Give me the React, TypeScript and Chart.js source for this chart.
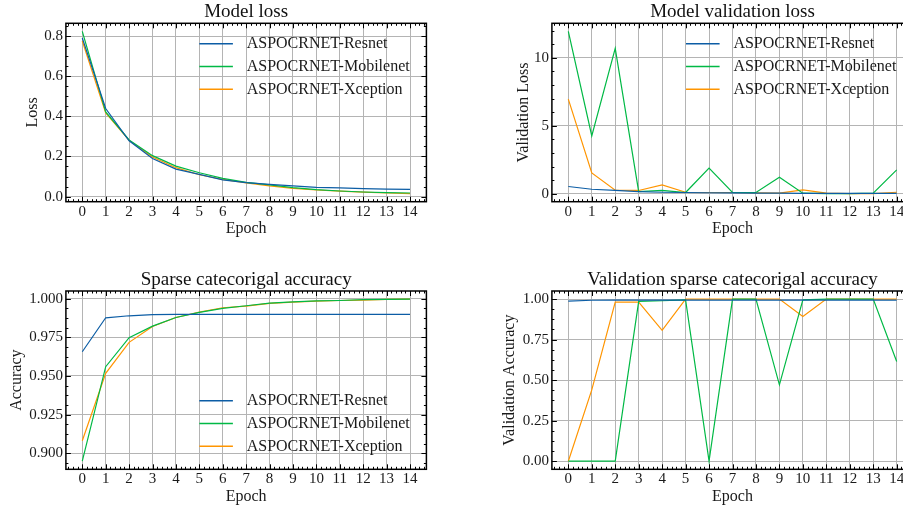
import React, { useEffect, useRef } from "react";
import { Chart, registerables } from "chart.js";

Chart.register(...registerables);

// ---------------- data ----------------
const epochs = [0, 1, 2, 3, 4, 5, 6, 7, 8, 9, 10, 11, 12, 13, 14];
const seriesNames = ["ASPOCRNET-Resnet", "ASPOCRNET-Mobilenet", "ASPOCRNET-Xception"];
const seriesColors = ["#0C5DA5", "#00B945", "#FF9500"];

const lossResnet = [0.79, 0.439, 0.278, 0.19, 0.137, 0.111, 0.083, 0.07, 0.061, 0.053, 0.046, 0.043, 0.04, 0.037, 0.036];
const lossMobilenet = [0.823, 0.422, 0.282, 0.204, 0.152, 0.119, 0.091, 0.071, 0.058, 0.045, 0.035, 0.028, 0.023, 0.02, 0.018];
const lossXception = [0.775, 0.417, 0.28, 0.197, 0.144, 0.109, 0.086, 0.068, 0.053, 0.041, 0.033, 0.027, 0.022, 0.018, 0.015];

const valLossResnet = [0.54, 0.34, 0.25, 0.17, 0.12, 0.1, 0.08, 0.07, 0.06, 0.05, 0.04, 0.03, 0.03, 0.03, 0.03];
const valLossMobilenet = [11.94, 4.26, 10.7, 0.17, 0.25, 0.1, 1.89, 0.1, 0.1, 1.22, 0.05, 0.02, 0.02, 0.05, 1.76];
const valLossXception = [6.96, 1.54, 0.27, 0.25, 0.66, 0.12, 0.1, 0.1, 0.07, 0.05, 0.29, 0.05, 0.02, 0.02, 0.12];

const accResnet = [0.9657, 0.9877, 0.989, 0.9897, 0.9899, 0.9899, 0.9899, 0.9899, 0.9899, 0.9899, 0.9899, 0.9899, 0.9899, 0.9899, 0.9899];
const accMobilenet = [0.8948, 0.956, 0.9748, 0.9823, 0.9879, 0.9912, 0.9938, 0.9955, 0.9972, 0.998, 0.9987, 0.9989, 0.9994, 0.9996, 0.9998];
const accXception = [0.908, 0.9517, 0.9718, 0.9821, 0.9879, 0.9914, 0.9942, 0.9953, 0.997, 0.9978, 0.9985, 0.9989, 0.9991, 0.9996, 0.9998];

const valAccResnet = [0.988, 0.993, 0.994, 0.994, 0.994, 0.994, 0.994, 0.994, 0.994, 0.994, 0.994, 0.994, 0.994, 0.994, 0.994];
const valAccMobilenet = [0.0, 0.0, 0.0, 0.986, 0.99, 0.995, 0.0, 1.0, 1.0, 0.471, 0.995, 1.0, 1.0, 1.0, 0.615];
const valAccXception = [0.0, 0.44, 0.981, 0.981, 0.807, 1.0, 1.0, 1.0, 1.0, 1.0, 0.893, 1.0, 1.0, 1.0, 1.0];

const lossTicks = [0.0, 0.2, 0.4, 0.6, 0.8];
const valLossTicks = [0, 5, 10];
const accTicks = [0.9, 0.925, 0.95, 0.975, 1.0];
const valAccTicks = [0.0, 0.25, 0.5, 0.75, 1.0];

const titles = ["Model loss", "Model validation loss", "Sparse catecorigal accuracy", "Validation sparse catecorigal accuracy"];
const yTitles = ["Loss", "Validation Loss", "Accuracy", "Validation Accuracy"];
const xTitle = "Epoch";

// ---------------- style ----------------
const FONT = "'Liberation Serif', 'Times New Roman', serif";
const TEXT = "#1a1a1a";
const GRID = "#b4b4b4";

type Panel = {
  left: number; top: number; width: number; height: number;
  padTop: number; padRight: number; yAxisW: number; xAxisH: number;
  xTitlePad: number; yTitlePad: number;
  title: string; yTitle: string; series: number[][];
  yTicks: number[]; decimals: number; yMinor: number;
  legend: "top" | "bottom" | null;
};

const panels: Panel[] = [
  { left: 0, top: 0, width: 451, height: 253, padTop: 23.3, padRight: 24.6, yAxisW: 65.9, xAxisH: 51.3, xTitlePad: 14.8, yTitlePad: 23.3,
    title: titles[0], yTitle: yTitles[0], series: [lossResnet, lossMobilenet, lossXception], yTicks: lossTicks, decimals: 1, yMinor: 0.05, legend: "top" },
  { left: 451, top: 0, width: 487, height: 253, padTop: 23.3, padRight: 24.9, yAxisW: 100.9, xAxisH: 51.3, xTitlePad: 14.8, yTitlePad: 63,
    title: titles[1], yTitle: yTitles[1], series: [valLossResnet, valLossMobilenet, valLossXception], yTicks: valLossTicks, decimals: 0, yMinor: 1, legend: "top" },
  { left: 0, top: 253, width: 451, height: 253, padTop: 38, padRight: 24.6, yAxisW: 65.9, xAxisH: 36.7, xTitlePad: 0, yTitlePad: 7.3,
    title: titles[2], yTitle: yTitles[2], series: [accResnet, accMobilenet, accXception], yTicks: accTicks, decimals: 3, yMinor: 0.00625, legend: "bottom" },
  { left: 451, top: 253, width: 487, height: 253, padTop: 38, padRight: 24.9, yAxisW: 100.9, xAxisH: 36.7, xTitlePad: 0, yTitlePad: 49.3,
    title: titles[3], yTitle: yTitles[3], series: [valAccResnet, valAccMobilenet, valAccXception], yTicks: valAccTicks, decimals: 2, yMinor: 0.0625, legend: null },
];

function framePlugin(p: Panel) {
  return {
    id: "frame",
    afterDraw(chart: any) {
      const { ctx, chartArea: a } = chart;
      const x = chart.scales.x;
      const y = chart.scales.y;
      ctx.save();
      // title, centred over the plot area
      ctx.font = `19px ${FONT}`;
      ctx.fillStyle = "#111";
      ctx.textAlign = "center";
      ctx.textBaseline = "middle";
      ctx.fillText(p.title, (a.left + a.right) / 2, a.top - 11.2);
      // legend (no frame)
      if (p.legend) {
        ctx.font = `16px ${FONT}`;
        ctx.textBaseline = "middle";
        ctx.textAlign = "left";
        chart.data.datasets.forEach((ds: any, i: number) => {
          const ry = p.legend === "top" ? a.top + 20.4 + i * 22.8 : a.bottom - 68.6 + i * 22.8;
          ctx.strokeStyle = ds.borderColor;
          ctx.lineWidth = 1.5;
          ctx.beginPath();
          ctx.moveTo(a.right - 227.1, ry);
          ctx.lineTo(a.right - 193.5, ry);
          ctx.stroke();
          ctx.fillStyle = TEXT;
          ctx.fillText(ds.label, a.right - 179.7, ry + 0.5);
        });
      }
      // ticks, inward on all four sides
      ctx.strokeStyle = "#000";
      ctx.lineWidth = 1;
      const xTick = (v: number, len: number) => {
        const px = Math.round(x.getPixelForValue(v)) + 0.5;
        if (px < a.left || px > a.right) return;
        ctx.beginPath();
        ctx.moveTo(px, a.bottom); ctx.lineTo(px, a.bottom - len);
        ctx.moveTo(px, a.top); ctx.lineTo(px, a.top + len);
        ctx.stroke();
      };
      const yTick = (v: number, len: number) => {
        const py = Math.round(y.getPixelForValue(v)) + 0.5;
        if (py < a.top || py > a.bottom) return;
        ctx.beginPath();
        ctx.moveTo(a.left, py); ctx.lineTo(a.left + len, py);
        ctx.moveTo(a.right, py); ctx.lineTo(a.right - len, py);
        ctx.stroke();
      };
      const xStep = 0.2;
      for (let k = Math.ceil(x.min / xStep); k * xStep <= x.max; k++) {
        const v = k * xStep;
        if (Math.abs(v - Math.round(v)) > 1e-6) xTick(v, 2.5);
      }
      epochs.forEach((e) => xTick(e, 5));
      for (let k = Math.ceil(y.min / p.yMinor); k * p.yMinor <= y.max; k++) {
        yTick(k * p.yMinor, 2.5);
      }
      p.yTicks.forEach((t) => yTick(t, 5));
      // frame
      ctx.lineWidth = 1.5;
      ctx.strokeRect(a.left, a.top, a.right - a.left, a.bottom - a.top);
      ctx.restore();
    },
  };
}

function makeChart(canvas: HTMLCanvasElement, p: Panel) {
  const all = p.series.flat();
  const lo = Math.min(...all);
  const hi = Math.max(...all);
  const ym = (hi - lo) * 0.05;
  const xm = (epochs[epochs.length - 1] - epochs[0]) * 0.05;
  const tickFont = { family: FONT, size: 15 };
  const labelFont = { family: FONT, size: 16, lineHeight: 1.2 };
  return new Chart(canvas, {
    type: "line",
    data: {
      datasets: p.series.map((s, i) => ({
        label: seriesNames[i],
        data: epochs.map((e, j) => ({ x: e, y: s[j] })),
        borderColor: seriesColors[i],
        backgroundColor: seriesColors[i],
        borderWidth: 1.2,
        pointRadius: 0,
        tension: 0,
        fill: false,
      })),
    },
    options: {
      responsive: false,
      animation: false,
      layout: { padding: { left: 0, right: p.padRight, top: p.padTop, bottom: 0 } },
      plugins: {
        legend: { display: false },
        tooltip: { enabled: false },
        title: { display: false },
      },
      scales: {
        x: {
          type: "linear",
          bounds: "data",
          min: epochs[0] - xm,
          max: epochs[epochs.length - 1] + xm,
          afterBuildTicks: (s: any) => { s.ticks = epochs.map((v) => ({ value: v })); },
          afterFit: (s: any) => { s.height = p.xAxisH; },
          ticks: { font: tickFont, color: TEXT, padding: 1, autoSkip: false, maxRotation: 0, callback: (v: any) => String(v) },
          grid: { color: GRID, lineWidth: 1, drawTicks: false },
          border: { display: false },
          title: { display: true, text: xTitle, color: TEXT, font: labelFont, padding: { top: 0, bottom: p.xTitlePad } },
        },
        y: {
          type: "linear",
          bounds: "data",
          min: lo - ym,
          max: hi + ym,
          afterBuildTicks: (s: any) => { s.ticks = p.yTicks.map((v) => ({ value: v })); },
          afterFit: (s: any) => { s.width = p.yAxisW; },
          ticks: { font: tickFont, color: TEXT, padding: 3, autoSkip: false, callback: (v: any) => Number(v).toFixed(p.decimals) },
          grid: { color: GRID, lineWidth: 1, drawTicks: false },
          border: { display: false },
          title: { display: true, text: p.yTitle, color: TEXT, font: labelFont, padding: { top: p.yTitlePad, bottom: 0 } },
        },
      },
    } as any,
    plugins: [framePlugin(p)],
  });
}

function PanelChart({ p }: { p: Panel }) {
  const ref = useRef<HTMLCanvasElement | null>(null);
  useEffect(() => {
    if (!ref.current) return;
    const c = makeChart(ref.current, p);
    return () => c.destroy();
  }, [p]);
  return (
    <canvas
      ref={ref}
      width={p.width}
      height={p.height}
      style={{ position: "absolute", left: p.left, top: p.top, width: p.width, height: p.height, display: "block" }}
    />
  );
}

export default function App() {
  return (
    <div style={{ position: "fixed", left: 0, top: 0, width: 903, height: 506, overflow: "hidden", background: "#fff" }}>
      {panels.map((p, i) => (
        <PanelChart key={i} p={p} />
      ))}
    </div>
  );
}
